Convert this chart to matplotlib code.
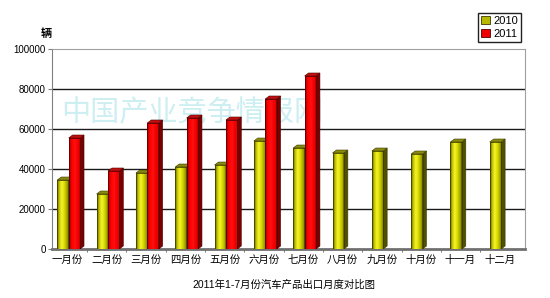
import numpy as np
import matplotlib.pyplot as plt
from matplotlib.patches import Polygon, Patch
from matplotlib.colors import LinearSegmentedColormap

plt.rcParams['font.family'] = ['Liberation Sans', 'Noto Sans CJK SC', 'DejaVu Sans']

months = ["一月份", "二月份", "三月份", "四月份", "五月份", "六月份",
          "七月份", "八月份", "九月份", "十月份", "十一月", "十二月"]
sales_2010 = [34500, 27500, 38000, 41000, 42000, 54000,
              50500, 48000, 49000, 47500, 53500, 53500]
sales_2011 = [55500, 39000, 63000, 65500, 64500, 75000, 86500]
yticks = [0, 20000, 40000, 60000, 80000, 100000]
years = ["2010", "2011"]
title = "2011年1-7月份汽车产品出口月度对比图"
unit = "辆"
watermark = "中国产业竞争情报网"

yellow_cm = LinearSegmentedColormap.from_list(
    "y", ["#5e5e00", "#c8c800", "#f4f430", "#dede00", "#b0b000", "#7a7a00"])
red_cm = LinearSegmentedColormap.from_list(
    "r", ["#a00000", "#ff0000", "#ff1010", "#f00000", "#e00000"])
grad = np.linspace(0, 1, 64).reshape(1, -1)

fig = plt.figure(figsize=(5.5, 2.98), dpi=100)
ax = fig.add_axes([0.0945, 0.1644, 0.86, 0.6712])

dx, dy = 0.1, 1500
w = 0.29


def draw_3d(bars, cmap, edge, side_c, top_c):
    for p in bars:
        x0, h, bw = p.get_x(), p.get_height(), p.get_width()
        im = ax.imshow(grad, cmap=cmap, extent=(x0, x0 + bw, 0, h),
                       aspect='auto', zorder=3)
        im.set_clip_path(p)
        ax.add_patch(Polygon([(x0 + bw, 0), (x0 + bw + dx, dy),
                              (x0 + bw + dx, h + dy), (x0 + bw, h)],
                             closed=True, fc=side_c, ec=edge, lw=0.4, zorder=3))
        ax.add_patch(Polygon([(x0, h), (x0 + dx, h + dy),
                              (x0 + bw + dx, h + dy), (x0 + bw, h)],
                             closed=True, fc=top_c, ec=edge, lw=0.4, zorder=3))


x = np.arange(len(months))
b1 = ax.bar(x - 0.11, sales_2010, w, color='none', edgecolor='#3a3a00',
            lw=0.5, zorder=4)
b2 = ax.bar(x[:len(sales_2011)] + 0.18, sales_2011, w, color='none',
            edgecolor='#500000', lw=0.5, zorder=4)
draw_3d(b1, yellow_cm, '#3a3a00', '#505000', '#8a8a10')
draw_3d(b2, red_cm, '#500000', '#7a0000', '#c01010')

for y in yticks[1:-1]:
    ax.axhline(y, color='#1a1a1a', lw=1, zorder=1)

ax.set_xlim(-0.39, 11.64)
ax.set_ylim(0, 100000)
ax.set_yticks(yticks)
ax.set_yticklabels([str(v) for v in yticks], fontsize=7)
ax.set_xticks(x)
ax.set_xticklabels(months, fontsize=7.5)
ax.set_xticks(x[:-1] + 0.5, minor=True)
ax.tick_params(axis='x', which='major', length=0, pad=4)
ax.tick_params(axis='x', which='minor', length=2, color='#606060')
ax.tick_params(axis='y', length=3, color='#808080', pad=1.5)

for s in ['top', 'right']:
    ax.spines[s].set_color('#a0a0a0')
    ax.spines[s].set_linewidth(0.8)
ax.spines['left'].set_color('#808080')
ax.spines['bottom'].set_color('#707070')
ax.spines['bottom'].set_linewidth(2)

ax.text(0.35, 0.62, watermark, transform=fig.transFigure, fontsize=21,
        color='#cdeff2', ha='center', va='center', zorder=2)

handles = [Patch(fc='#b8b800', ec='#3a3a00', lw=0.6),
           Patch(fc='#ee0000', ec='#500000', lw=0.6)]
leg = fig.legend(handles, years, loc='upper right',
                 bbox_to_anchor=(0.948, 0.958), fontsize=8,
                 fancybox=False, framealpha=1, edgecolor='#202020',
                 handlelength=0.8, handleheight=0.8, handletextpad=0.3,
                 borderpad=0.3, labelspacing=0.25, borderaxespad=0)
leg.get_frame().set_linewidth(1)

fig.text(46 / 550, 1 - 34 / 298, unit, fontsize=8, fontweight='bold',
         ha='center', va='center')
fig.text(284 / 550, 1 - 285 / 298, title, fontsize=7.5,
         ha='center', va='center')

fig.savefig("out.png", dpi=100)
